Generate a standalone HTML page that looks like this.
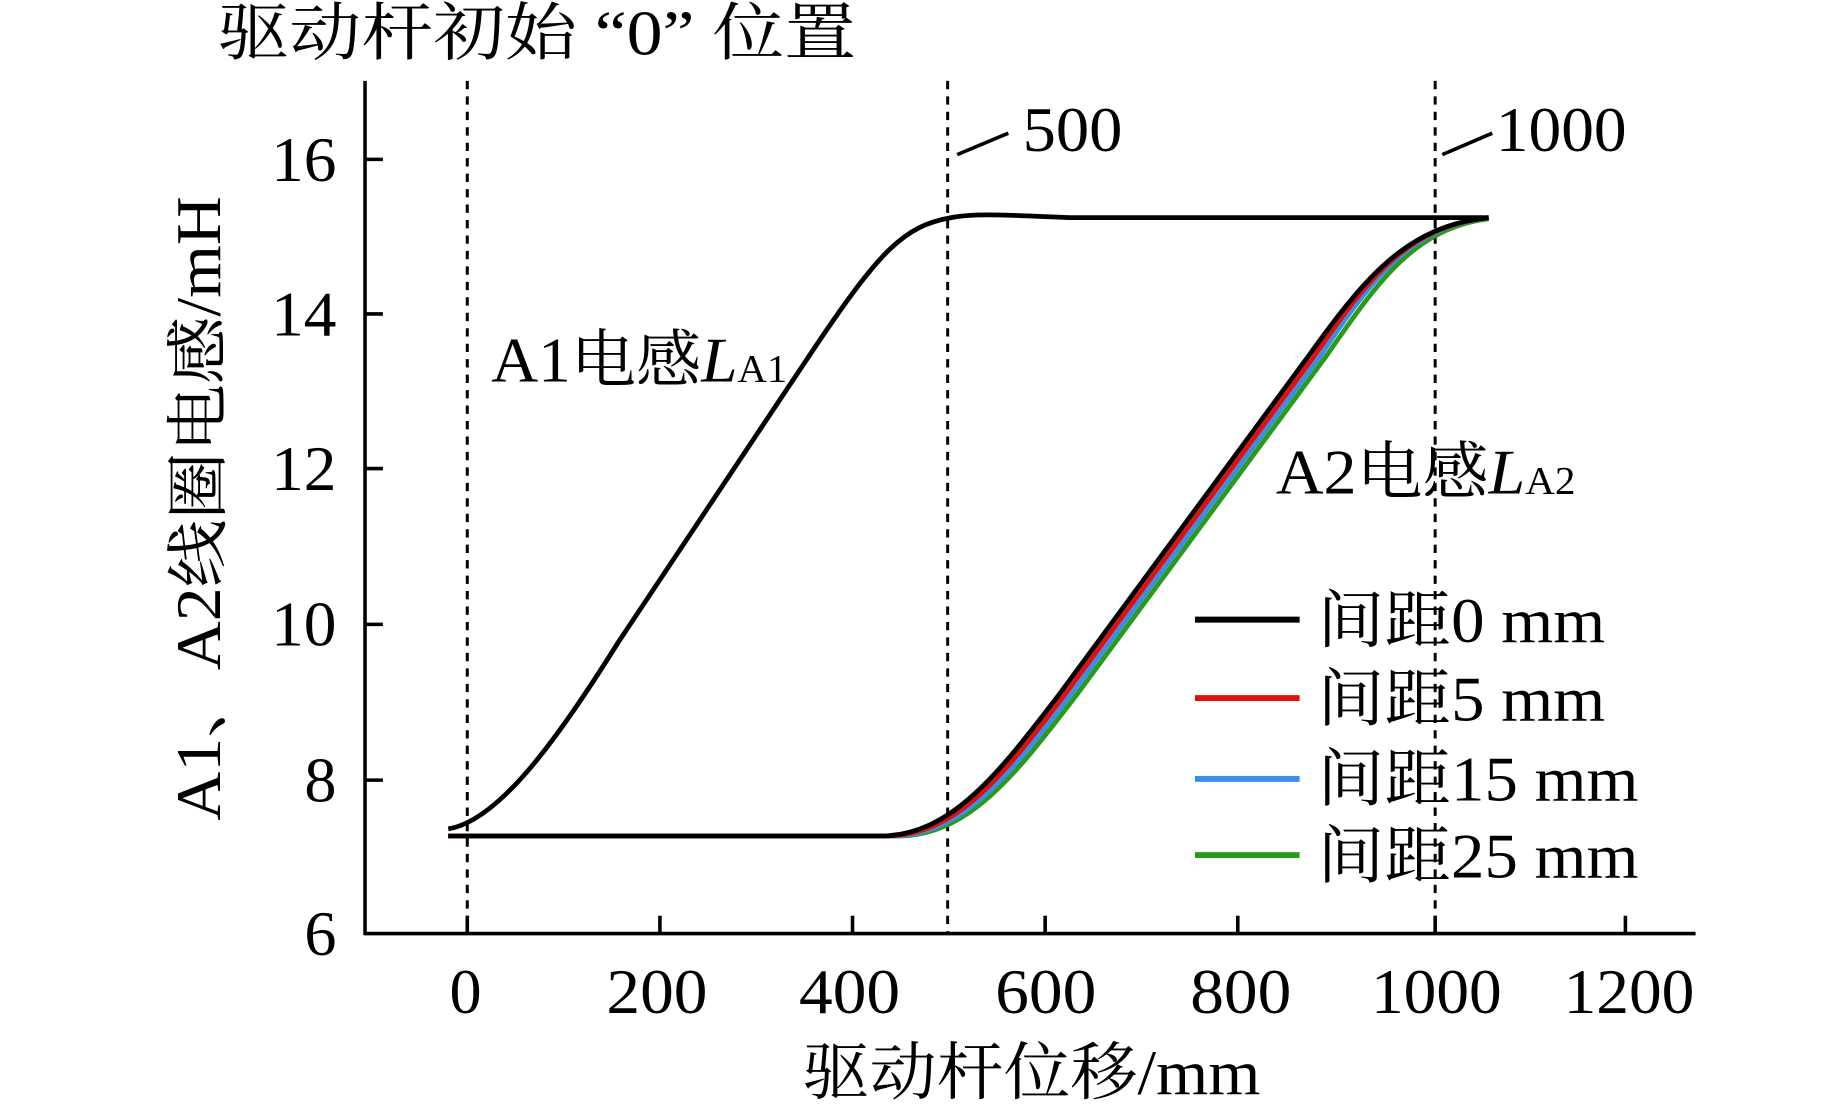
<!DOCTYPE html>
<html><head><meta charset="utf-8"><style>html,body{margin:0;padding:0;background:#fff}svg{display:block}</style></head>
<body>
<svg width="1843" height="1106" viewBox="0 0 1550 930" preserveAspectRatio="none" xmlns="http://www.w3.org/2000/svg" font-family="'Liberation Serif','Noto Serif CJK SC','Noto Sans CJK SC',serif" font-size="53" fill="#000">
<text x="183" y="46" textLength="537" lengthAdjust="spacingAndGlyphs">驱动杆初始 “0” 位置</text>
<g stroke="#000" stroke-width="3" fill="none">
<line x1="307" y1="68" x2="307" y2="786"/>
<line x1="306" y1="785" x2="1426" y2="785"/>
<line x1="307" y1="134" x2="322" y2="134"/><line x1="307" y1="264" x2="322" y2="264"/><line x1="307" y1="394" x2="322" y2="394"/><line x1="307" y1="525" x2="322" y2="525"/><line x1="307" y1="656" x2="322" y2="656"/>
<line x1="393" y1="785" x2="393" y2="770"/><line x1="555" y1="785" x2="555" y2="770"/><line x1="717" y1="785" x2="717" y2="770"/><line x1="879" y1="785" x2="879" y2="770"/><line x1="1041" y1="785" x2="1041" y2="770"/><line x1="1207" y1="785" x2="1207" y2="770"/><line x1="1367" y1="785" x2="1367" y2="770"/>
</g>
<g stroke="#000" stroke-width="2.5" stroke-dasharray="7,6" fill="none">
<line x1="393" y1="68" x2="393" y2="785"/><line x1="797" y1="68" x2="797" y2="785"/><line x1="1207" y1="68" x2="1207" y2="785"/>
</g>
<g stroke="#000" stroke-width="3"><line x1="805" y1="130" x2="848" y2="112"/><line x1="1213" y1="130" x2="1255" y2="112"/></g>
<g>
<text x="860" y="127" textLength="84" lengthAdjust="spacingAndGlyphs">500</text><text x="1258" y="127" textLength="110" lengthAdjust="spacingAndGlyphs">1000</text>
<text x="228" y="152" textLength="55" lengthAdjust="spacingAndGlyphs">16</text><text x="228" y="282" textLength="55" lengthAdjust="spacingAndGlyphs">14</text><text x="228" y="412" textLength="55" lengthAdjust="spacingAndGlyphs">12</text><text x="228" y="543" textLength="55" lengthAdjust="spacingAndGlyphs">10</text><text x="256" y="674" textLength="27" lengthAdjust="spacingAndGlyphs">8</text><text x="256" y="803" textLength="27" lengthAdjust="spacingAndGlyphs">6</text>
<text x="378" y="852" textLength="27" lengthAdjust="spacingAndGlyphs">0</text><text x="510" y="852" textLength="85" lengthAdjust="spacingAndGlyphs">200</text><text x="672" y="852" textLength="85" lengthAdjust="spacingAndGlyphs">400</text><text x="837" y="852" textLength="85" lengthAdjust="spacingAndGlyphs">600</text><text x="1001" y="852" textLength="85" lengthAdjust="spacingAndGlyphs">800</text><text x="1153" y="852" textLength="110" lengthAdjust="spacingAndGlyphs">1000</text><text x="1315" y="852" textLength="110" lengthAdjust="spacingAndGlyphs">1200</text>
<text x="675" y="920" textLength="385" lengthAdjust="spacingAndGlyphs">驱动杆位移/mm</text>
<text transform="translate(185,690) rotate(-90)" textLength="525" lengthAdjust="spacingAndGlyphs">A1、A2线圈电感/mH</text>
<text x="413" y="321" textLength="249" lengthAdjust="spacingAndGlyphs">A1电感<tspan font-style="italic">L</tspan><tspan font-size="33">A1</tspan></text>
<text x="1073" y="415" textLength="252" lengthAdjust="spacingAndGlyphs">A2电感<tspan font-style="italic">L</tspan><tspan font-size="33">A2</tspan></text>
</g>
<g fill="none" stroke-width="4">
<path stroke="#000" d="M377,697 C420,690 470,620 520,540 L680,300 C740,210 760,190 800,183 C820,179 850,181 900,183 L1252,183"/>
<path stroke="#2a9a1a" d="M377,703 L755,703 C815,703 855,650 905,585 L1115,300 C1160,235 1190,192 1252,184"/>
<path stroke="#3a8ee6" d="M377,703 L750,703 C810,703 850,650 900,585 L1110,300 C1155,232 1188,190 1252,183"/>
<path stroke="#e01010" d="M377,703 L745,703 C805,703 845,650 895,585 L1105,300 C1152,231 1186,190 1252,183"/>
<path stroke="#000" d="M377,703 L740,703 C800,703 840,650 890,585 L1100,300 C1150,230 1185,190 1252,183"/>
</g>
<g stroke-width="5"><line x1="1005" y1="521" x2="1093" y2="521" stroke="#000"/><line x1="1005" y1="587" x2="1093" y2="587" stroke="#e01010"/><line x1="1005" y1="655" x2="1093" y2="655" stroke="#3a8ee6"/><line x1="1005" y1="719" x2="1093" y2="719" stroke="#2a9a1a"/></g>
<text x="1108" y="540" textLength="242" lengthAdjust="spacingAndGlyphs">间距0 mm</text><text x="1108" y="606" textLength="242" lengthAdjust="spacingAndGlyphs">间距5 mm</text><text x="1108" y="673" textLength="270" lengthAdjust="spacingAndGlyphs">间距15 mm</text><text x="1108" y="738" textLength="270" lengthAdjust="spacingAndGlyphs">间距25 mm</text>
</svg>
</body></html>
